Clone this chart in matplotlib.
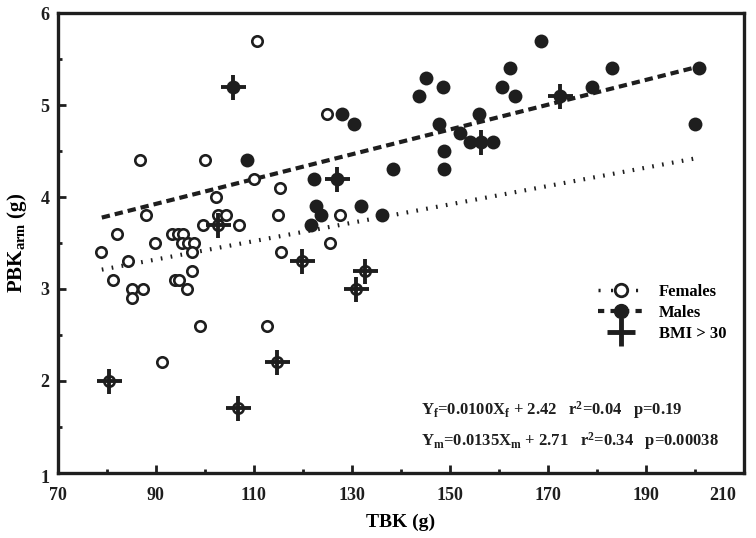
import matplotlib
matplotlib.use("Agg")
import matplotlib.pyplot as plt
from matplotlib.lines import Line2D
from matplotlib.transforms import ScaledTranslation
import numpy as np

plt.rcParams["font.family"] = ["Liberation Serif", "DejaVu Serif"]
plt.rcParams["font.weight"] = "bold"
plt.rcParams["axes.labelweight"] = "bold"
plt.rcParams["mathtext.fontset"] = "custom"
plt.rcParams["mathtext.rm"] = "Liberation Serif:bold"
plt.rcParams["mathtext.it"] = "Liberation Serif:bold"
plt.rcParams["mathtext.bf"] = "Liberation Serif:bold"

INK = "#1e1e1e"

# Females (TBK, PBK arm)
females_x = [78.9, 81.3, 82.2, 84.3, 85.2, 85.2, 86.7, 87.5, 88.1, 89.8, 91.2, 93.3,
             93.9, 94.8, 94.5, 95.6, 95.4, 96.5, 97.9, 97.3, 97.5, 96.3, 99.0, 99.7,
             100.1, 102.3, 102.7, 104.3, 106.9, 110.1, 110.7, 112.6, 114.9, 115.3,
             115.6, 124.9, 125.5, 127.5,
             80.4, 102.8, 106.7, 114.8, 119.9, 130.9, 132.6]
females_y = [3.4, 3.1, 3.6, 3.3, 3.0, 2.9, 4.4, 3.0, 3.8, 3.5, 2.2, 3.6,
             3.1, 3.1, 3.6, 3.6, 3.5, 3.5, 3.5, 3.4, 3.2, 3.0, 2.6, 3.7,
             4.4, 4.0, 3.8, 3.8, 3.7, 4.2, 5.7, 2.6, 3.8, 4.1,
             3.4, 4.9, 3.5, 3.8,
             2.0, 3.7, 1.7, 2.2, 3.3, 3.0, 3.2]

# Males
males_x = [108.6, 121.7, 122.2, 122.6, 123.8, 128.0, 130.5, 131.9, 136.2, 138.5,
           143.8, 145.2, 147.7, 148.6, 148.8, 148.8, 152.0, 154.2, 156.0, 156.4,
           158.7, 160.7, 162.2, 163.3, 168.6, 179.0, 183.1, 200.9, 200.0,
           105.8, 126.9, 172.4]
males_y = [4.4, 3.7, 4.2, 3.9, 3.8, 4.9, 4.8, 3.9, 3.8, 4.3,
           5.1, 5.3, 4.8, 5.2, 4.5, 4.3, 4.7, 4.6, 4.9, 4.6,
           4.6, 5.2, 5.4, 5.1, 5.7, 5.2, 5.4, 5.4, 4.8,
           5.2, 4.2, 5.1]

# BMI > 30 subjects
bmi_x = [80.4, 102.8, 106.7, 114.8, 119.9, 130.9, 132.6, 105.8, 126.9, 156.4, 172.4]
bmi_y = [2.0, 3.7, 1.7, 2.2, 3.3, 3.0, 3.2, 5.2, 4.2, 4.6, 5.1]

# regression fits
fit_range = [79, 200]
fem_slope, fem_icpt = 0.0100, 2.42
male_slope, male_icpt = 0.0135, 2.71

x_ticks = [70, 90, 110, 130, 150, 170, 190, 210]
y_ticks = [1, 2, 3, 4, 5, 6]

fig = plt.figure(figsize=(7.56, 5.38), dpi=100)
ax = fig.add_axes([0.0763, 0.1214, 0.9078, 0.8539])

fx = np.array(fit_range)
ax.plot(fx, fem_slope * fx + fem_icpt, color=INK, lw=3, dashes=(0.4, 2.0), zorder=2)
ax.plot(fx, male_slope * fx + male_icpt, color=INK, lw=3, dashes=(2.0, 1.2), zorder=2)

ax.plot(females_x, females_y, "o", ms=7.5, mfc="white", mec=INK, mew=1.9, zorder=3)
ax.plot(males_x, males_y, "o", ms=10, mfc=INK, mec=INK, mew=0, zorder=4)
ax.plot(bmi_x, bmi_y, "+", ms=18, mec=INK, mew=2.8, zorder=5)

ax.set_xlim(70, 210)
ax.set_ylim(1, 6)
ax.set_xticks(x_ticks)
ax.set_xticks([80, 100, 120, 140, 160, 180, 200], minor=True)
ax.set_yticks(y_ticks)
ax.set_yticks([1.5, 2.5, 3.5, 4.5, 5.5], minor=True)
ax.tick_params(which="both", direction="in", width=2, colors=INK, labelsize=13,
               top=False, right=False)
ax.tick_params(which="major", length=6)
ax.tick_params(which="minor", length=3)
ax.tick_params(axis="x", pad=10)
ax.tick_params(axis="y", pad=6)
for sp in ax.spines.values():
    sp.set_linewidth(2.4)
    sp.set_color(INK)

# end labels offset like the original
last = ax.xaxis.get_major_ticks()[-1].label1
last.set_transform(last.get_transform() + ScaledTranslation(-0.21, 0, fig.dpi_scale_trans))
first_y = ax.yaxis.get_major_ticks()[0].label1
first_y.set_transform(first_y.get_transform() + ScaledTranslation(0, -0.04, fig.dpi_scale_trans))

ax.set_xlabel("TBK (g)", fontsize=14, labelpad=7)
ax.set_ylabel("PBK$_{arm}$ (g)", fontsize=15, labelpad=8)

handles = [
    Line2D([], [], color=INK, lw=2.5, dashes=(0.6, 3), marker="o", ms=9,
           mfc="white", mec=INK, mew=2),
    Line2D([], [], color=INK, lw=3, dashes=(1.5, 1.5), marker="o", ms=10,
           mfc=INK, mec=INK),
    Line2D([], [], ls="none", marker="+", ms=20, mec=INK, mew=3.5),
]
ax.legend(handles, ["Females", "Males", "BMI > 30"], loc="center left",
          bbox_to_anchor=(0.775, 0.348), frameon=False, fontsize=12,
          handlelength=2.8, handletextpad=0.85, labelspacing=0.3, borderpad=0)

ax.text(0.53, 0.137, "Y$_f$=0.0100X$_f$ + 2.42   r$^2$=0.04   p=0.19",
        transform=ax.transAxes, fontsize=12, va="center", ha="left", color=INK)
ax.text(0.53, 0.069, "Y$_m$=0.0135X$_m$ + 2.71   r$^2$=0.34   p=0.00038",
        transform=ax.transAxes, fontsize=12, va="center", ha="left", color=INK)

fig.savefig("out.png", dpi=100)
